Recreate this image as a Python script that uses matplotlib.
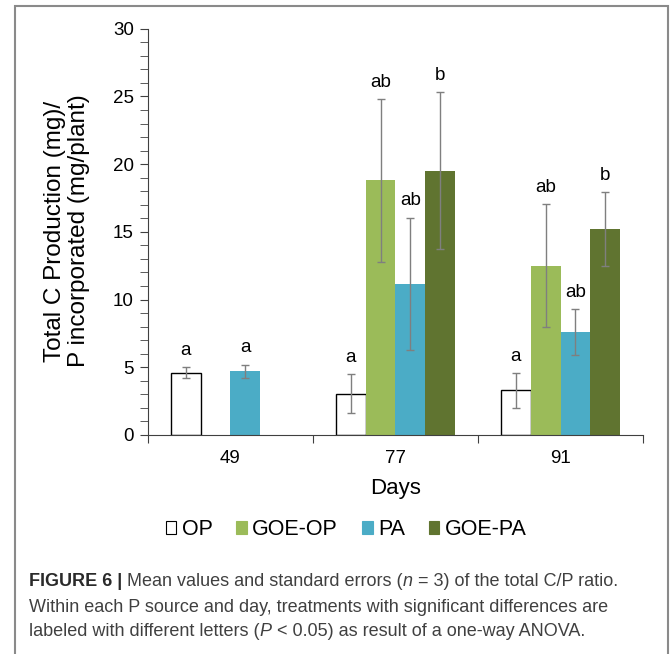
import numpy as np
import matplotlib.pyplot as plt
from matplotlib.patches import Rectangle, Patch
from matplotlib.ticker import MultipleLocator

days = ['49', '77', '91']
series = ['OP', 'GOE-OP', 'PA', 'GOE-PA']
colors = ['white', '#9bbb59', '#4bacc6', '#607430']

# means and standard errors per series (nan = not measured)
op_mean = [4.6, 3.05, 3.3]
op_err = [0.43, 1.45, 1.28]
goe_op_mean = [np.nan, 18.8, 12.5]
goe_op_err = [np.nan, 6.0, 4.55]
pa_mean = [4.7, 11.15, 7.6]
pa_err = [0.5, 4.9, 1.7]
goe_pa_mean = [np.nan, 19.5, 15.2]
goe_pa_err = [np.nan, 5.8, 2.75]

op_letters = ['a', 'a', 'a']
goe_op_letters = ['', 'ab', 'ab']
pa_letters = ['a', 'ab', 'ab']
goe_pa_letters = ['', 'b', 'b']

means = [op_mean, goe_op_mean, pa_mean, goe_pa_mean]
errs = [op_err, goe_op_err, pa_err, goe_pa_err]
letters = [op_letters, goe_op_letters, pa_letters, goe_pa_letters]

plt.rcParams['font.family'] = ['Liberation Sans', 'DejaVu Sans']

fig = plt.figure(figsize=(6.72, 6.54), dpi=100)
ax = fig.add_axes([0.220, 0.335, 0.737, 0.621])

x = np.arange(len(days))
w = 0.18
for i in range(4):
    xs = x + (i - 1.5) * w
    m = np.array(means[i])
    e = np.array(errs[i])
    ax.bar(xs, m, width=w, color=colors[i], edgecolor='black' if i == 0 else colors[i],
           linewidth=1.0 if i == 0 else 0, zorder=2)
    ax.errorbar(xs, m, yerr=e, fmt='none', ecolor='#7f7f7f', elinewidth=1.0,
                capsize=3, capthick=1.0, zorder=3)
    for j in range(len(days)):
        if not np.isnan(m[j]):
            ax.text(xs[j], m[j] + e[j] + 0.9, letters[i][j], ha='center', va='baseline',
                    fontsize=13.5)

ax.set_xlim(-0.5, 2.5)
ax.set_ylim(0, 30)
ax.set_xticks([-0.5, 0.5, 1.5, 2.5])
ax.set_xticklabels([])
ax.set_xticks(x, minor=True)
ax.set_xticklabels(days, minor=True, fontsize=13.5)
ax.tick_params(axis='x', which='minor', length=0, pad=11)
ax.tick_params(axis='x', which='major', length=6, color='#404040')
ax.yaxis.set_major_locator(MultipleLocator(5))
ax.yaxis.set_minor_locator(MultipleLocator(1))
ax.tick_params(axis='y', which='both', length=6, color='#404040', labelsize=13.5, pad=4)
for s in ['top', 'right']:
    ax.spines[s].set_visible(False)
ax.spines['left'].set_color('#404040')
ax.spines['bottom'].set_color('#404040')
# y title placed directly so the two lines sit where the original puts them
fig.text(67 / 672, 1 - 231 / 654, 'Total C Production (mg)/\nP incorporated (mg/plant)',
         rotation=90, ha='center', va='center', multialignment='center',
         fontsize=17.5, linespacing=1.15)
ax.set_xlabel('Days', fontsize=16, labelpad=8)

handles = [Patch(facecolor=colors[i], edgecolor='black' if i == 0 else colors[i],
                 linewidth=0.8) for i in range(4)]
fig.legend(handles, series, loc='center', bbox_to_anchor=(0.515, 0.19), ncol=4,
           frameon=False, fontsize=15.5, handlelength=0.5, handleheight=0.5,
           handletextpad=0.25, columnspacing=1.1)

# caption, drawn piece by piece so bold/italic parts line up
cap_font = ['Liberation Sans', 'DejaVu Sans']
lines = [
    [('FIGURE 6 | ', 'bold', 'normal'), ('Mean values and standard errors (', 'normal', 'normal'),
     ('n', 'normal', 'italic'), (' = 3) of the total C/P ratio.', 'normal', 'normal')],
    [('Within each P source and day, treatments with significant differences are', 'normal', 'normal')],
    [('labeled with different letters (', 'normal', 'normal'), ('P', 'normal', 'italic'),
     (' < 0.05) as result of a one-way ANOVA.', 'normal', 'normal')],
]
line_y = [654 - 582, 654 - 607, 654 - 631]
fig.canvas.draw()
renderer = fig.canvas.get_renderer()
for segs, yy in zip(lines, line_y):
    xpix = 29
    for txt, wt, st in segs:
        t = fig.text(xpix / 672, yy / 654, txt, fontsize=13, fontweight=wt, fontstyle=st,
                     family=cap_font, color='#404040' if wt == 'normal' else '#2a2a2a',
                     va='center', ha='left')
        bb = t.get_window_extent(renderer)
        xpix = bb.x1

fig.patches.append(Rectangle((15 / 672, -0.01), 653 / 672, 1 - 6 / 654 + 0.01,
                             transform=fig.transFigure, fill=False,
                             edgecolor='#8a8a8a', linewidth=1.5))

fig.savefig('out.png', dpi=100)
